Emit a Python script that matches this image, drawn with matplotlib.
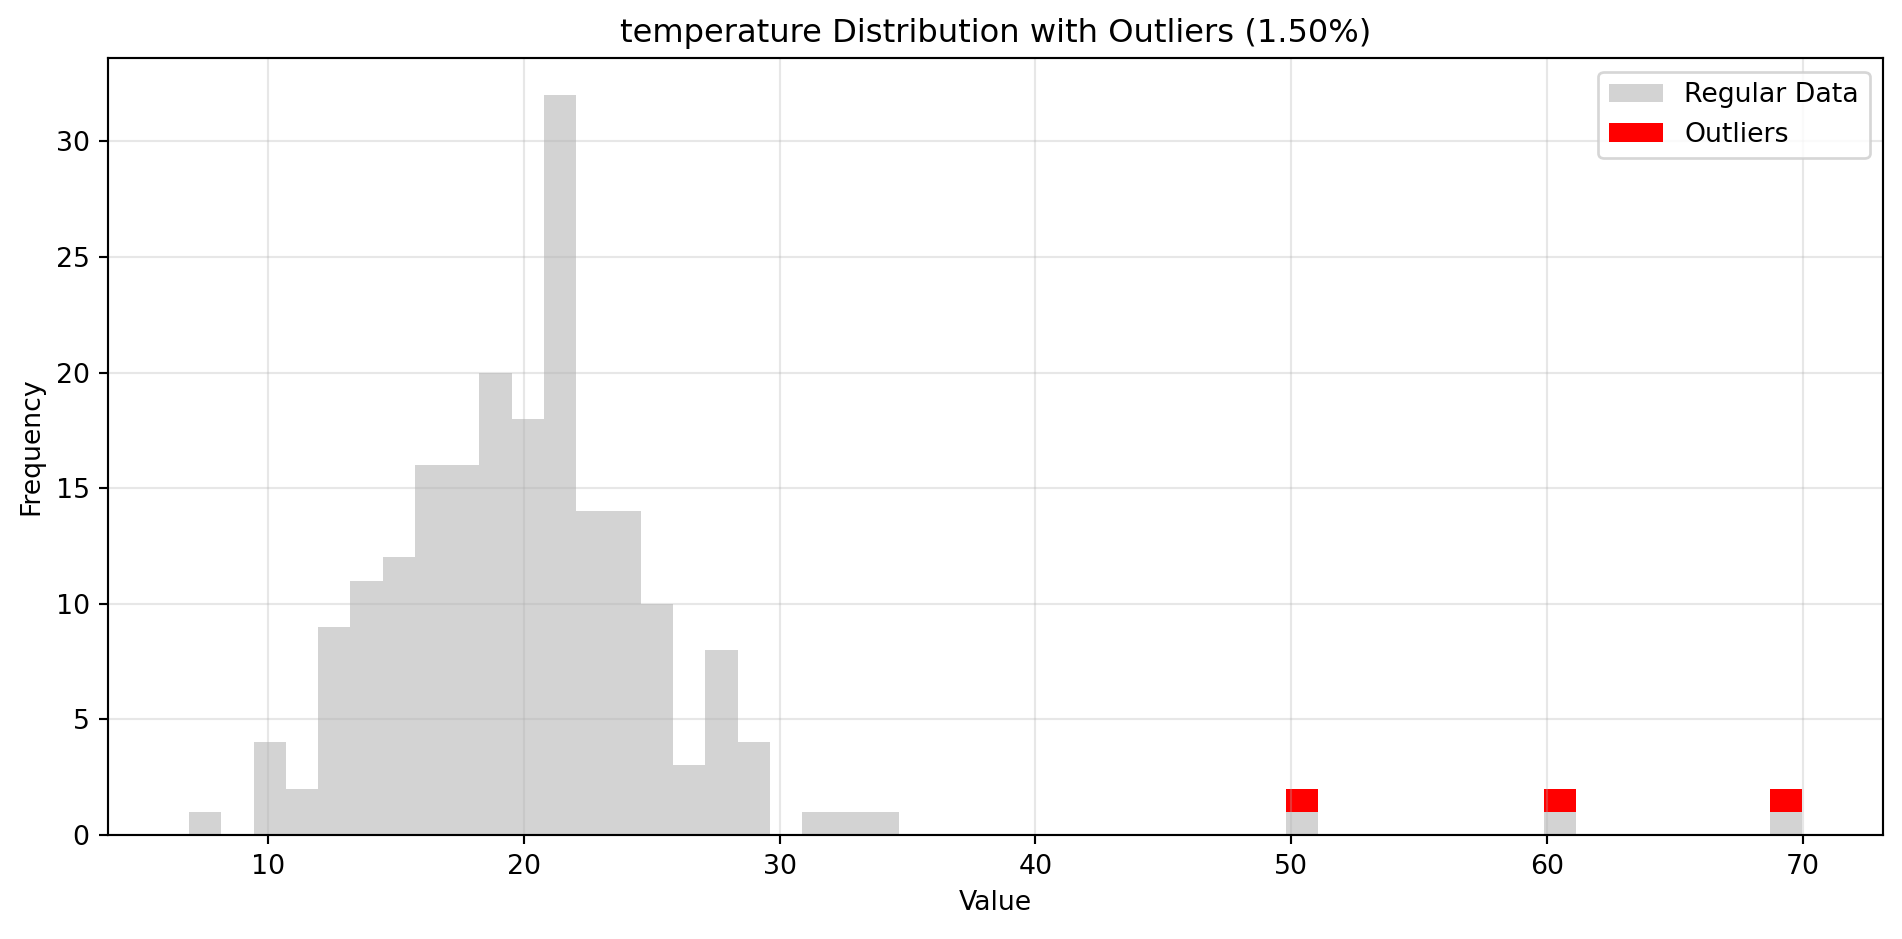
import numpy as np
import matplotlib
matplotlib.use("Agg")
import matplotlib.pyplot as plt

# histogram: 50 equal bins between the data min and max
data_min = 6.90
data_max = 69.99
n_bins = 50

# counts of all data per bin (gray), outliers stacked on top (red)
regular_counts = [1, 0, 4, 2, 9, 11, 12, 16, 16, 20,
                  18, 32, 14, 14, 10, 3, 8, 4, 0, 1,
                  1, 1, 0, 0, 0, 0, 0, 0, 0, 0,
                  0, 0, 0, 0, 1, 0, 0, 0, 0, 0,
                  0, 0, 1, 0, 0, 0, 0, 0, 0, 1]
outlier_counts = [0] * 50
outlier_counts[34] = 1
outlier_counts[42] = 1
outlier_counts[49] = 1

column = "temperature"
outlier_pct = 1.50

edges = np.linspace(data_min, data_max, n_bins + 1)
centers = (edges[:-1] + edges[1:]) / 2

dpi = 193
fig, ax = plt.subplots(figsize=(1902 / dpi, 939 / dpi), dpi=dpi)
ax.hist([centers, centers], bins=edges,
        weights=[regular_counts, outlier_counts],
        stacked=True, color=['lightgray', 'red'],
        label=['Regular Data', 'Outliers'])
ax.set_title(f"{column} Distribution with Outliers ({outlier_pct:.2f}%)")
ax.set_xlabel("Value")
ax.set_ylabel("Frequency")
ax.legend()
ax.grid(True, alpha=0.3)
fig.subplots_adjust(left=0.057, right=0.990, top=0.938, bottom=0.111)
fig.savefig("out.png")
